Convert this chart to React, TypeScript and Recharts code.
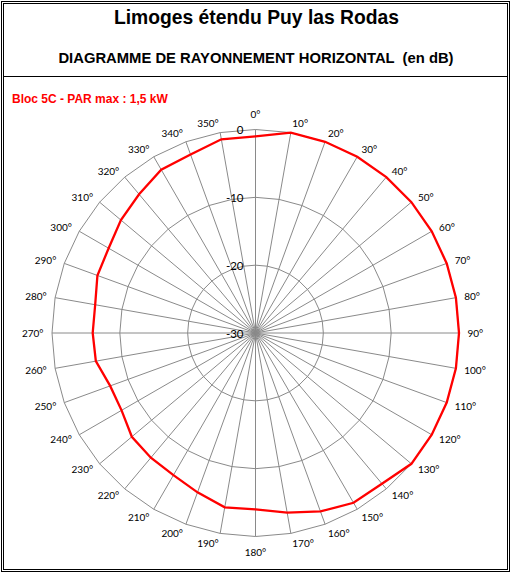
import { RadarChart, Radar, PolarGrid, PolarAngleAxis, PolarRadiusAxis } from 'recharts'

// azimuths (degrees) and attenuation (dB)
const AZIMUTHS = [
  0, 10, 20, 30, 40, 50, 60, 70, 80, 90, 100, 110, 120, 130, 140, 150, 160, 170,
  180, 190, 200, 210, 220, 230, 240, 250, 260, 270, 280, 290, 300, 310, 320, 330, 340, 350,
]
const ATTENUATION = [
  -1, 0, 0, 0, 0, 0, 0, 0, 0, 0, 0, 0, 0, 0, -1, -1.1, -2, -3.1,
  -4, -3.9, -5, -5.8, -6, -6.2, -7.2, -7.2, -6.1, -6, -6, -5.2, -5, -4.1, -3.3, -2.2, -2, -1,
]
const RADIUS_TICKS = [-30, -20, -10, 0]

const TITLE = 'Limoges étendu Puy las Rodas'
const SUBTITLE = 'DIAGRAMME DE RAYONNEMENT HORIZONTAL  (en dB)'
const SERIES_LABEL = 'Bloc 5C - PAR max : 1,5 kW'

const data = AZIMUTHS.map((a, i) => ({ azimuth: `${a}°`, level: ATTENUATION[i] }))

const W = 515
const H = 577
const CX = 255.5
const CY = 333
const R = 203.5
const GRID = '#8a8a8a'
const LABEL_FONT = "Lato, 'Open Sans', sans-serif"

// Excel-like placement: label box pushed outward so its nearest corner clears the ring
function AngleTick(props: any) {
  const { x, y, payload } = props
  const cx = props.cx ?? CX
  const cy = props.cy ?? CY
  const dx = x - cx
  const dy = y - cy
  const rho = Math.hypot(dx, dy)
  const half = 4.5
  const clear = rho - 3.6
  let anchor: 'start' | 'end' | 'middle' = dx > 0.5 ? 'start' : dx < -0.5 ? 'end' : 'middle'
  let ty = y
  if (anchor === 'middle') {
    ty = cy + Math.sign(dy) * (rho + 7)
  } else if (Math.abs(dx) < clear) {
    const cornerDy = Math.sqrt(clear * clear - dx * dx)
    if (dy < 0) ty = Math.min(y, cy - cornerDy - half)
    else ty = Math.max(y, cy + cornerDy + half)
  }
  return (
    <text
      x={x}
      y={ty}
      textAnchor={anchor}
      dominantBaseline="central"
      fontFamily={LABEL_FONT}
      fontSize={10}
      fill="#000"
    >
      {payload.value}
    </text>
  )
}

function RadiusTick(props: any) {
  const { x, y, payload } = props
  return (
    <text
      x={x - 12}
      y={y}
      textAnchor="end"
      dominantBaseline="central"
      fontFamily={LABEL_FONT}
      fontSize={11.5}
      fill="#000"
    >
      {payload.value}
    </text>
  )
}

export default function App() {
  return (
    <div style={{ position: 'absolute', left: 0, top: 0, width: W, height: H, background: '#fff' }}>
      <svg width={W} height={H} style={{ position: 'absolute', left: 0, top: 0 }}>
        <rect x={1.5} y={1.5} width={508} height={570} fill="none" stroke="#000" strokeWidth={1} />
        <rect x={3.5} y={3.5} width={504} height={566} fill="none" stroke="#000" strokeWidth={1} />
        <line x1={3.5} x2={507.5} y1={76.5} y2={76.5} stroke="#000" strokeWidth={1} />
        <text
          x={256.5}
          y={24}
          textAnchor="middle"
          fontFamily="'Liberation Sans', Arial, sans-serif"
          fontWeight="bold"
          fontSize={19.3}
          fill="#000"
        >
          {TITLE}
        </text>
        <text
          x={256}
          y={63.3}
          textAnchor="middle"
          fontFamily="'Liberation Sans', Arial, sans-serif"
          fontWeight="bold"
          fontSize={14.8}
          fill="#000"
          style={{ whiteSpace: 'pre' }}
        >
          {SUBTITLE}
        </text>
        <text
          x={12}
          y={103}
          fontFamily="'Liberation Sans', Arial, sans-serif"
          fontWeight="bold"
          fontSize={12}
          fill="#ff0000"
        >
          {SERIES_LABEL}
        </text>
      </svg>
      <div style={{ position: 'absolute', left: 0, top: 0 }}>
        <RadarChart
          width={W}
          height={H}
          data={data}
          cx={CX}
          cy={CY}
          outerRadius={R}
          margin={{ top: 0, right: 0, bottom: 0, left: 0 }}
        >
          <PolarGrid gridType="polygon" stroke={GRID} strokeWidth={1} />
          <PolarAngleAxis
            dataKey="azimuth"
            tick={<AngleTick />}
            tickLine={false}
            axisLine={false}
            tickSize={8.5}
          />
          <PolarRadiusAxis
            type="number"
            domain={[-30, 0]}
            ticks={RADIUS_TICKS}
            tickCount={4}
            angle={90}
            axisLine={false}
            tickLine={false}
            tick={<RadiusTick />}
          />
          <Radar
            dataKey="level"
            stroke="#ff0000"
            strokeWidth={2.3}
            fill="none"
            fillOpacity={0}
            dot={false}
            isAnimationActive={false}
          />
        </RadarChart>
      </div>
    </div>
  )
}
